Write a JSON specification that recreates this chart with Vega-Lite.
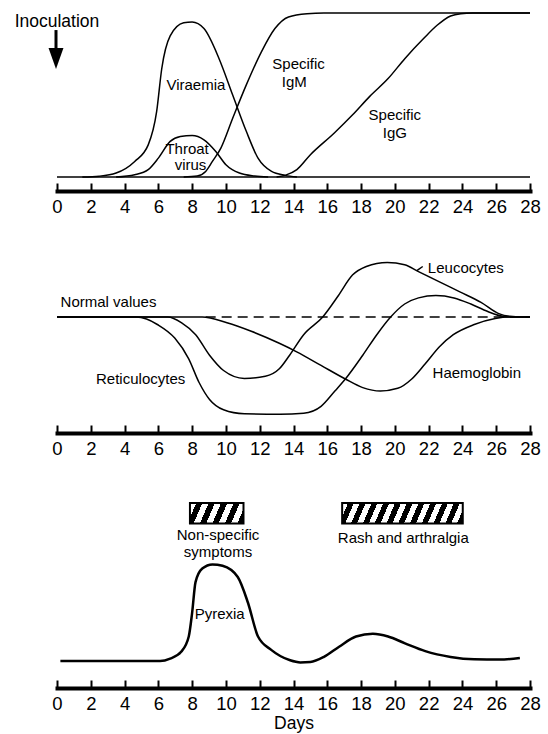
{
  "$schema": "https://vega.github.io/schema/vega-lite/v6.json",
  "background": "white",
  "padding": {"left": 14, "top": 10, "right": 5, "bottom": 5},
  "bounds": "flush",
  "spacing": 80,
  "config": {
    "view": {"stroke": null},
    "font": "Liberation Sans",
    "text": {"font": "Liberation Sans", "fontSize": 15, "color": "black"},
    "axisX": {
      "domainColor": "black", "domainWidth": 4, "domainCap": "square",
      "tickColor": "black", "tickWidth": 2, "tickSize": -8,
      "labelFont": "Liberation Sans", "labelFontSize": 18.5, "labelColor": "black", "labelPadding": 14,
      "labelFlush": false, "labelOverlap": false, "grid": false,
      "values": [0, 2, 4, 6, 8, 10, 12, 14, 16, 18, 20, 22, 24, 26, 28],
      "titleFont": "Liberation Sans", "titleFontSize": 17.5, "titleFontWeight": "normal", "titleColor": "black", "titlePadding": 2
    }
  },
  "datasets": {
    "p1": [
      {"series": "baseline", "day": 0, "value": 0}, {"series": "baseline", "day": 28, "value": 0},
      {"series": "Viraemia", "day": 1.5, "value": 0}, {"series": "Viraemia", "day": 2.5, "value": 0.5}, {"series": "Viraemia", "day": 3.5, "value": 2.4}, {"series": "Viraemia", "day": 4.6, "value": 9.5}, {"series": "Viraemia", "day": 5.4, "value": 19.6}, {"series": "Viraemia", "day": 5.9, "value": 40}, {"series": "Viraemia", "day": 6.2, "value": 66}, {"series": "Viraemia", "day": 6.7, "value": 86}, {"series": "Viraemia", "day": 7.5, "value": 94}, {"series": "Viraemia", "day": 8.0, "value": 94.5}, {"series": "Viraemia", "day": 8.7, "value": 90.5}, {"series": "Viraemia", "day": 9.6, "value": 72}, {"series": "Viraemia", "day": 10.4, "value": 50}, {"series": "Viraemia", "day": 11.2, "value": 28}, {"series": "Viraemia", "day": 11.9, "value": 11.5}, {"series": "Viraemia", "day": 12.7, "value": 3.4}, {"series": "Viraemia", "day": 13.5, "value": 1}, {"series": "Viraemia", "day": 14.2, "value": 0},
      {"series": "Throat virus", "day": 3.5, "value": 0}, {"series": "Throat virus", "day": 4.6, "value": 1.4}, {"series": "Throat virus", "day": 5.4, "value": 4.5}, {"series": "Throat virus", "day": 6.0, "value": 11.5}, {"series": "Throat virus", "day": 6.7, "value": 21.7}, {"series": "Throat virus", "day": 7.3, "value": 24.7}, {"series": "Throat virus", "day": 8.0, "value": 25.3}, {"series": "Throat virus", "day": 8.7, "value": 22.7}, {"series": "Throat virus", "day": 9.4, "value": 15.6}, {"series": "Throat virus", "day": 10.0, "value": 7.5}, {"series": "Throat virus", "day": 10.8, "value": 2.4}, {"series": "Throat virus", "day": 11.7, "value": 0.6}, {"series": "Throat virus", "day": 12.5, "value": 0},
      {"series": "Specific IgM", "day": 7.5, "value": 0}, {"series": "Specific IgM", "day": 8.3, "value": 0.6}, {"series": "Specific IgM", "day": 8.8, "value": 3.4}, {"series": "Specific IgM", "day": 9.2, "value": 9.5}, {"series": "Specific IgM", "day": 9.7, "value": 17.6}, {"series": "Specific IgM", "day": 10.4, "value": 35.8}, {"series": "Specific IgM", "day": 11.2, "value": 56}, {"series": "Specific IgM", "day": 12.1, "value": 76.3}, {"series": "Specific IgM", "day": 12.9, "value": 90.5}, {"series": "Specific IgM", "day": 13.7, "value": 97.6}, {"series": "Specific IgM", "day": 14.8, "value": 99.6}, {"series": "Specific IgM", "day": 15.8, "value": 100}, {"series": "Specific IgM", "day": 28, "value": 100},
      {"series": "Specific IgG", "day": 13.0, "value": 0}, {"series": "Specific IgG", "day": 13.5, "value": 1}, {"series": "Specific IgG", "day": 14.2, "value": 4.5}, {"series": "Specific IgG", "day": 15.0, "value": 13.6}, {"series": "Specific IgG", "day": 16.4, "value": 26.7}, {"series": "Specific IgG", "day": 17.5, "value": 37.9}, {"series": "Specific IgG", "day": 18.5, "value": 49}, {"series": "Specific IgG", "day": 19.6, "value": 60}, {"series": "Specific IgG", "day": 20.6, "value": 72.3}, {"series": "Specific IgG", "day": 21.7, "value": 84.4}, {"series": "Specific IgG", "day": 22.5, "value": 92.5}, {"series": "Specific IgG", "day": 23.3, "value": 98.2}, {"series": "Specific IgG", "day": 23.9, "value": 99.6}, {"series": "Specific IgG", "day": 24.6, "value": 100}, {"series": "Specific IgG", "day": 28, "value": 100}
    ],
    "p1labels": [
      {"label": "Viraemia", "day": 8.22, "value": 56},
      {"label": "Throat", "day": 7.7, "value": 17},
      {"label": "virus", "day": 7.9, "value": 7.2},
      {"label": "Specific", "day": 14.3, "value": 69.2},
      {"label": "IgM", "day": 14.05, "value": 58},
      {"label": "Specific", "day": 20.0, "value": 37.9},
      {"label": "IgG", "day": 20.0, "value": 26.7}
    ],
    "inoc": [{"label": "Inoculation", "day": 0, "value": 94.7, "shaftTop": 89.6, "shaftEnd": 74, "head": 72.3}],
    "p2": [
      {"series": "Leucocytes", "day": 0, "value": 0}, {"series": "Leucocytes", "day": 6.56, "value": 0}, {"series": "Leucocytes", "day": 7.38, "value": -5.8}, {"series": "Leucocytes", "day": 8.21, "value": -17.7}, {"series": "Leucocytes", "day": 9.03, "value": -38.2}, {"series": "Leucocytes", "day": 9.86, "value": -53.5}, {"series": "Leucocytes", "day": 11.09, "value": -61.4}, {"series": "Leucocytes", "day": 12.33, "value": -59.3}, {"series": "Leucocytes", "day": 13.16, "value": -51.8}, {"series": "Leucocytes", "day": 13.77, "value": -38.2}, {"series": "Leucocytes", "day": 14.6, "value": -17.7}, {"series": "Leucocytes", "day": 15.73, "value": 0}, {"series": "Leucocytes", "day": 16.66, "value": 21.5}, {"series": "Leucocytes", "day": 17.49, "value": 41.9}, {"series": "Leucocytes", "day": 18.31, "value": 50.5}, {"series": "Leucocytes", "day": 19.55, "value": 54.6}, {"series": "Leucocytes", "day": 20.58, "value": 52.2}, {"series": "Leucocytes", "day": 21.4, "value": 45.4}, {"series": "Leucocytes", "day": 22.64, "value": 35.1}, {"series": "Leucocytes", "day": 23.88, "value": 24.9}, {"series": "Leucocytes", "day": 25.1, "value": 14.7}, {"series": "Leucocytes", "day": 26.15, "value": 3.4}, {"series": "Leucocytes", "day": 26.8, "value": 0.7}, {"series": "Leucocytes", "day": 27.5, "value": 0}, {"series": "Leucocytes", "day": 28, "value": 0},
      {"series": "Reticulocytes", "day": 0, "value": 0}, {"series": "Reticulocytes", "day": 4.7, "value": 0}, {"series": "Reticulocytes", "day": 5.3, "value": -2}, {"series": "Reticulocytes", "day": 5.94, "value": -7.5}, {"series": "Reticulocytes", "day": 6.97, "value": -21.1}, {"series": "Reticulocytes", "day": 7.79, "value": -41.6}, {"series": "Reticulocytes", "day": 8.41, "value": -65.5}, {"series": "Reticulocytes", "day": 9.03, "value": -82.5}, {"series": "Reticulocytes", "day": 9.86, "value": -92.8}, {"series": "Reticulocytes", "day": 11.09, "value": -96.8}, {"series": "Reticulocytes", "day": 13.2, "value": -97.2}, {"series": "Reticulocytes", "day": 14.6, "value": -96.2}, {"series": "Reticulocytes", "day": 15.63, "value": -89.3}, {"series": "Reticulocytes", "day": 16.45, "value": -74}, {"series": "Reticulocytes", "day": 17.07, "value": -62}, {"series": "Reticulocytes", "day": 18.1, "value": -38.2}, {"series": "Reticulocytes", "day": 18.93, "value": -17.7}, {"series": "Reticulocytes", "day": 19.75, "value": 0}, {"series": "Reticulocytes", "day": 20.58, "value": 13}, {"series": "Reticulocytes", "day": 21.4, "value": 19.1}, {"series": "Reticulocytes", "day": 22.43, "value": 21.5}, {"series": "Reticulocytes", "day": 23.5, "value": 19.1}, {"series": "Reticulocytes", "day": 24.5, "value": 13}, {"series": "Reticulocytes", "day": 25.5, "value": 5.5}, {"series": "Reticulocytes", "day": 26.4, "value": 0.7}, {"series": "Reticulocytes", "day": 27, "value": 0}, {"series": "Reticulocytes", "day": 28, "value": 0},
      {"series": "Haemoglobin", "day": 0, "value": 0}, {"series": "Haemoglobin", "day": 8.6, "value": 0}, {"series": "Haemoglobin", "day": 10.06, "value": -5.8}, {"series": "Haemoglobin", "day": 11.5, "value": -14.3}, {"series": "Haemoglobin", "day": 13.16, "value": -26.3}, {"series": "Haemoglobin", "day": 14.19, "value": -34.8}, {"series": "Haemoglobin", "day": 15.63, "value": -48.4}, {"series": "Haemoglobin", "day": 17.07, "value": -62}, {"series": "Haemoglobin", "day": 18.1, "value": -70.6}, {"series": "Haemoglobin", "day": 19.14, "value": -74}, {"series": "Haemoglobin", "day": 20.17, "value": -71.3}, {"series": "Haemoglobin", "day": 21.0, "value": -62}, {"series": "Haemoglobin", "day": 21.8, "value": -46.7}, {"series": "Haemoglobin", "day": 22.64, "value": -29.7}, {"series": "Haemoglobin", "day": 23.46, "value": -17.7}, {"series": "Haemoglobin", "day": 24.7, "value": -7.5}, {"series": "Haemoglobin", "day": 25.94, "value": -1.4}, {"series": "Haemoglobin", "day": 26.8, "value": 0}, {"series": "Haemoglobin", "day": 28, "value": 0},
      {"series": "pointer", "day": 21.3, "value": 46.4}, {"series": "pointer", "day": 21.65, "value": 50.5}
    ],
    "normal": [{"series": "Normal values", "day": 8.8, "value": 0}, {"series": "Normal values", "day": 28, "value": 0}],
    "p2labels": [
      {"label": "Normal values", "day": 3.05, "value": 14.7},
      {"label": "Leucocytes", "day": 24.2, "value": 48.8},
      {"label": "Reticulocytes", "day": 4.95, "value": -62},
      {"label": "Haemoglobin", "day": 24.85, "value": -56}
    ],
    "p3": [
      {"series": "Pyrexia", "day": 0.2, "value": 0}, {"series": "Pyrexia", "day": 6.1, "value": 0}, {"series": "Pyrexia", "day": 6.7, "value": 2.4}, {"series": "Pyrexia", "day": 7.35, "value": 9.2}, {"series": "Pyrexia", "day": 7.8, "value": 24.5}, {"series": "Pyrexia", "day": 8.0, "value": 48.3}, {"series": "Pyrexia", "day": 8.2, "value": 78.9}, {"series": "Pyrexia", "day": 8.6, "value": 92.5}, {"series": "Pyrexia", "day": 9.2, "value": 96.6}, {"series": "Pyrexia", "day": 9.8, "value": 95.2}, {"series": "Pyrexia", "day": 10.7, "value": 84}, {"series": "Pyrexia", "day": 11.3, "value": 58.5}, {"series": "Pyrexia", "day": 11.9, "value": 24.5}, {"series": "Pyrexia", "day": 12.7, "value": 10.9}, {"series": "Pyrexia", "day": 13.8, "value": 0.7}, {"series": "Pyrexia", "day": 14.4, "value": -1.4}, {"series": "Pyrexia", "day": 15.0, "value": -1}, {"series": "Pyrexia", "day": 15.8, "value": 4.1}, {"series": "Pyrexia", "day": 16.7, "value": 14.3}, {"series": "Pyrexia", "day": 17.7, "value": 24.5}, {"series": "Pyrexia", "day": 18.7, "value": 27.2}, {"series": "Pyrexia", "day": 19.6, "value": 24.5}, {"series": "Pyrexia", "day": 20.6, "value": 17.7}, {"series": "Pyrexia", "day": 21.8, "value": 9.9}, {"series": "Pyrexia", "day": 23.3, "value": 4.1}, {"series": "Pyrexia", "day": 24.7, "value": 1.7}, {"series": "Pyrexia", "day": 26.2, "value": 1.4}, {"series": "Pyrexia", "day": 27.4, "value": 3.1}
    ],
    "bars": [
      {"label": "Non-specific symptoms", "start": 7.87, "end": 11.04, "low": 137.4, "high": 158},
      {"label": "Rash and arthralgia", "start": 16.88, "end": 24.02, "low": 137.4, "high": 158}
    ],
    "p3labels": [
      {"label": "Non-specific", "day": 9.53, "value": 126.5},
      {"label": "symptoms", "day": 9.53, "value": 109.5},
      {"label": "Rash and arthralgia", "day": 20.5, "value": 123},
      {"label": "Pyrexia", "day": 9.63, "value": 46.6}
    ]
  },
  "vconcat": [
    {
      "width": 473, "height": 164,
      "layer": [
        {
          "data": {"name": "p1"},
          "mark": {"type": "line", "color": "black", "interpolate": "monotone"},
          "encoding": {
            "x": {"field": "day", "type": "quantitative", "scale": {"domain": [0, 28], "nice": false, "zero": false}, "axis": {"offset": 14, "title": null}},
            "y": {"field": "value", "type": "quantitative", "scale": {"domain": [0, 100], "nice": false, "zero": false}, "axis": null},
            "strokeWidth": {"field": "series", "type": "nominal", "scale": {"domain": ["baseline", "Viraemia", "Throat virus", "Specific IgM", "Specific IgG"], "range": [1.5, 1.5, 2.3, 3, 1.5]}, "legend": null}
          }
        },
        {
          "data": {"name": "p1labels"},
          "mark": {"type": "text", "fontSize": 15, "align": "center", "baseline": "middle"},
          "encoding": {
            "x": {"field": "day", "type": "quantitative", "scale": {"domain": [0, 28], "nice": false, "zero": false}, "axis": {"offset": 14, "title": null}},
            "y": {"field": "value", "type": "quantitative", "scale": {"domain": [0, 100], "nice": false, "zero": false}, "axis": null},
            "text": {"field": "label"}
          }
        },
        {
          "data": {"name": "inoc"},
          "mark": {"type": "text", "fontSize": 17.5, "align": "center", "baseline": "middle"},
          "encoding": {
            "x": {"field": "day", "type": "quantitative", "scale": {"domain": [0, 28], "nice": false, "zero": false}, "axis": {"offset": 14, "title": null}},
            "y": {"field": "value", "type": "quantitative", "scale": {"domain": [0, 100], "nice": false, "zero": false}, "axis": null},
            "text": {"field": "label"}
          }
        },
        {
          "data": {"name": "inoc"},
          "mark": {"type": "rule", "color": "black", "strokeWidth": 3, "xOffset": -1},
          "encoding": {
            "x": {"field": "day", "type": "quantitative", "scale": {"domain": [0, 28], "nice": false, "zero": false}, "axis": {"offset": 14, "title": null}},
            "y": {"field": "shaftTop", "type": "quantitative", "scale": {"domain": [0, 100], "nice": false, "zero": false}, "axis": null},
            "y2": {"field": "shaftEnd"}
          }
        },
        {
          "data": {"name": "inoc"},
          "mark": {"type": "point", "filled": true, "color": "black", "opacity": 1, "shape": "M -0.71 -1 L 0.71 -1 L 0 1 Z", "size": 441, "xOffset": -1},
          "encoding": {
            "x": {"field": "day", "type": "quantitative", "scale": {"domain": [0, 28], "nice": false, "zero": false}, "axis": {"offset": 14, "title": null}},
            "y": {"field": "head", "type": "quantitative", "scale": {"domain": [0, 100], "nice": false, "zero": false}, "axis": null}
          }
        }
      ]
    },
    {
      "width": 473, "height": 160,
      "layer": [
        {
          "data": {"name": "normal"},
          "mark": {"type": "line", "color": "black", "strokeWidth": 1.5, "strokeDash": [10, 6]},
          "encoding": {
            "x": {"field": "day", "type": "quantitative", "scale": {"domain": [0, 28], "nice": false, "zero": false}, "axis": {"offset": 16, "title": null}},
            "y": {"field": "value", "type": "quantitative", "scale": {"domain": [-100, 60], "nice": false, "zero": false}, "axis": null}
          }
        },
        {
          "data": {"name": "p2"},
          "mark": {"type": "line", "color": "black", "interpolate": "monotone"},
          "encoding": {
            "x": {"field": "day", "type": "quantitative", "scale": {"domain": [0, 28], "nice": false, "zero": false}, "axis": {"offset": 16, "title": null}},
            "y": {"field": "value", "type": "quantitative", "scale": {"domain": [-100, 60], "nice": false, "zero": false}, "axis": null},
            "strokeWidth": {"field": "series", "type": "nominal", "scale": {"domain": ["Leucocytes", "Reticulocytes", "Haemoglobin", "pointer"], "range": [1.5, 2, 3, 1.3]}, "legend": null}
          }
        },
        {
          "data": {"name": "p2labels"},
          "mark": {"type": "text", "fontSize": 15, "align": "center", "baseline": "middle"},
          "encoding": {
            "x": {"field": "day", "type": "quantitative", "scale": {"domain": [0, 28], "nice": false, "zero": false}, "axis": {"offset": 16, "title": null}},
            "y": {"field": "value", "type": "quantitative", "scale": {"domain": [-100, 60], "nice": false, "zero": false}, "axis": null},
            "text": {"field": "label"}
          }
        }
      ]
    },
    {
      "width": 473, "height": 174,
      "layer": [
        {
          "data": {"name": "p3"},
          "mark": {"type": "line", "color": "black", "strokeWidth": 2.5, "interpolate": "monotone"},
          "encoding": {
            "x": {"field": "day", "type": "quantitative", "scale": {"domain": [0, 28], "nice": false, "zero": false}, "axis": {"offset": 17, "title": "Days"}},
            "y": {"field": "value", "type": "quantitative", "scale": {"domain": [-10, 164], "nice": false, "zero": false}, "axis": null}
          }
        },
        {
          "data": {"name": "bars"},
          "transform": [{"filter": "datum.label === 'Non-specific symptoms'"}],
          "mark": {
            "type": "rect", "stroke": "black", "strokeWidth": 2,
            "fill": {"gradient": "linear", "x1": 0, "y1": 0, "x2": 1.134, "y2": 0.187,
              "stops": [
                {"offset": 0, "color": "white"}, {"offset": 0.1, "color": "white"}, {"offset": 0.1, "color": "black"}, {"offset": 0.2, "color": "black"},
                {"offset": 0.2, "color": "white"}, {"offset": 0.3, "color": "white"}, {"offset": 0.3, "color": "black"}, {"offset": 0.4, "color": "black"},
                {"offset": 0.4, "color": "white"}, {"offset": 0.5, "color": "white"}, {"offset": 0.5, "color": "black"}, {"offset": 0.6, "color": "black"},
                {"offset": 0.6, "color": "white"}, {"offset": 0.7, "color": "white"}, {"offset": 0.7, "color": "black"}, {"offset": 0.8, "color": "black"},
                {"offset": 0.8, "color": "white"}, {"offset": 0.9, "color": "white"}, {"offset": 0.9, "color": "black"}, {"offset": 1, "color": "black"}
              ]}
          },
          "encoding": {
            "x": {"field": "start", "type": "quantitative", "scale": {"domain": [0, 28], "nice": false, "zero": false}, "axis": {"offset": 17, "title": "Days"}},
            "x2": {"field": "end"},
            "y": {"field": "low", "type": "quantitative", "scale": {"domain": [-10, 164], "nice": false, "zero": false}, "axis": null},
            "y2": {"field": "high"}
          }
        },
        {
          "data": {"name": "bars"},
          "transform": [{"filter": "datum.label === 'Rash and arthralgia'"}],
          "mark": {
            "type": "rect", "stroke": "black", "strokeWidth": 2,
            "fill": {"gradient": "linear", "x1": 0, "y1": 0, "x2": 1.068, "y2": 0.078,
              "stops": [
                {"offset": 0, "color": "white"}, {"offset": 0.0455, "color": "white"}, {"offset": 0.0455, "color": "black"}, {"offset": 0.0909, "color": "black"},
                {"offset": 0.0909, "color": "white"}, {"offset": 0.1364, "color": "white"}, {"offset": 0.1364, "color": "black"}, {"offset": 0.1818, "color": "black"},
                {"offset": 0.1818, "color": "white"}, {"offset": 0.2273, "color": "white"}, {"offset": 0.2273, "color": "black"}, {"offset": 0.2727, "color": "black"},
                {"offset": 0.2727, "color": "white"}, {"offset": 0.3182, "color": "white"}, {"offset": 0.3182, "color": "black"}, {"offset": 0.3636, "color": "black"},
                {"offset": 0.3636, "color": "white"}, {"offset": 0.4091, "color": "white"}, {"offset": 0.4091, "color": "black"}, {"offset": 0.4545, "color": "black"},
                {"offset": 0.4545, "color": "white"}, {"offset": 0.5, "color": "white"}, {"offset": 0.5, "color": "black"}, {"offset": 0.5455, "color": "black"},
                {"offset": 0.5455, "color": "white"}, {"offset": 0.5909, "color": "white"}, {"offset": 0.5909, "color": "black"}, {"offset": 0.6364, "color": "black"},
                {"offset": 0.6364, "color": "white"}, {"offset": 0.6818, "color": "white"}, {"offset": 0.6818, "color": "black"}, {"offset": 0.7273, "color": "black"},
                {"offset": 0.7273, "color": "white"}, {"offset": 0.7727, "color": "white"}, {"offset": 0.7727, "color": "black"}, {"offset": 0.8182, "color": "black"},
                {"offset": 0.8182, "color": "white"}, {"offset": 0.8636, "color": "white"}, {"offset": 0.8636, "color": "black"}, {"offset": 0.9091, "color": "black"},
                {"offset": 0.9091, "color": "white"}, {"offset": 0.9545, "color": "white"}, {"offset": 0.9545, "color": "black"}, {"offset": 1, "color": "black"}
              ]}
          },
          "encoding": {
            "x": {"field": "start", "type": "quantitative", "scale": {"domain": [0, 28], "nice": false, "zero": false}, "axis": {"offset": 17, "title": "Days"}},
            "x2": {"field": "end"},
            "y": {"field": "low", "type": "quantitative", "scale": {"domain": [-10, 164], "nice": false, "zero": false}, "axis": null},
            "y2": {"field": "high"}
          }
        },
        {
          "data": {"name": "p3labels"},
          "mark": {"type": "text", "fontSize": 15, "align": "center", "baseline": "middle"},
          "encoding": {
            "x": {"field": "day", "type": "quantitative", "scale": {"domain": [0, 28], "nice": false, "zero": false}, "axis": {"offset": 17, "title": "Days"}},
            "y": {"field": "value", "type": "quantitative", "scale": {"domain": [-10, 164], "nice": false, "zero": false}, "axis": null},
            "text": {"field": "label"}
          }
        }
      ]
    }
  ]
}
